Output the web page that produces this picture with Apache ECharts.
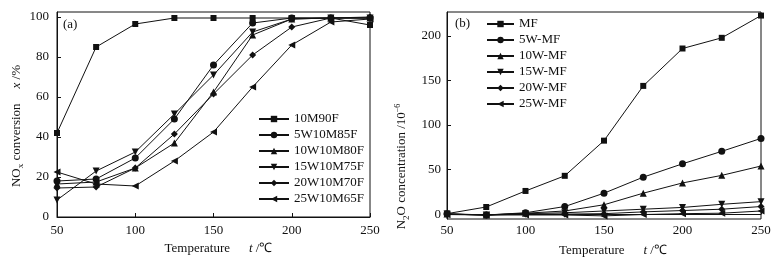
<!DOCTYPE html>
<html>
<head>
<meta charset="utf-8">
<script src="https://cdn.jsdelivr.net/npm/echarts@6/dist/echarts.min.js"></script>
<style>
  html, body { margin: 0; padding: 0; background: #fff; }
  #main { width: 776px; height: 262px; }
</style>
</head>
<body>
<div id="main"></div>
<script>
// temperatures, °C
const temps = [50, 75, 100, 125, 150, 175, 200, 225, 250];

// (a) NOx conversion, %
const noxNames = ['10M90F', '5W10M85F', '10W10M80F', '15W10M75F', '20W10M70F', '25W10M65F'];
const nox10M90F = [42, 85, 96.5, 99.5, 99.5, 99.5, 99.5, 99.5, 96];
const nox5W10M85F = [18, 19, 29.5, 49, 76, 97, 99.5, 99.5, 99.5];
const nox10W10M80F = [16.5, 17.5, 24.5, 37, 62.5, 91, 99, 99.5, 99.5];
const nox15W10M75F = [8.5, 23, 32.5, 51.5, 71, 92.5, 99, 99.5, 99.5];
const nox20W10M70F = [14.5, 15, 24.5, 41.5, 61.5, 81, 95, 99.5, 100];
const nox25W10M65F = [22.5, 16.5, 15.5, 28, 42.5, 65, 86, 97.5, 99];

// (b) N2O concentration, 10^-6
const n2oNames = ['MF', '5W-MF', '10W-MF', '15W-MF', '20W-MF', '25W-MF'];
const n2oMF = [0.5, 8, 26, 43, 82.5, 144, 186, 198, 223];
const n2o5W = [0.5, -1, 1.5, 8.5, 23.5, 41.5, 56.5, 70.5, 85];
const n2o10W = [0, -1, 1, 3.5, 10.5, 23.5, 35, 43.5, 54];
const n2o15W = [0, -1, 0.5, 1.5, 3.5, 5.5, 7.5, 11, 14];
const n2o20W = [0, -1, 0, 0, 0.5, 2.5, 4, 5.5, 8.5];
const n2o25W = [-0.5, -1, -1, -1, -2, -0.5, 0.5, 1, 3.5];

const noxTicks = [0, 20, 40, 60, 80, 100];
const n2oTicks = [0, 50, 100, 150, 200];

const font = 'Liberation Serif';
const ink = '#111';

// marker shapes: square, circle, up, down, diamond, left
const shapes = ['rect', 'circle', 'triangle', 'triangle', 'diamond', 'triangle'];
const rotations = [0, 0, 0, 180, 0, 90];

const pair = (vals) => temps.map((t, i) => [t, vals[i]]);

function makeSeries(names, list, idx) {
  return names.map((name, i) => ({
    name: name,
    type: 'line',
    xAxisIndex: idx,
    yAxisIndex: idx,
    data: pair(list[i]),
    symbol: shapes[i],
    symbolRotate: rotations[i],
    symbolSize: shapes[i] === 'rect' ? 6 : 7,
    showAllSymbol: true,
    lineStyle: { color: ink, width: 1 },
    itemStyle: { color: ink },
    emphasis: { disabled: true },
    animation: false
  }));
}

function xAxis(idx, labelMargin, nameGap, shift) {
  return {
    type: 'value',
    gridIndex: idx,
    min: 50,
    max: 250,
    interval: 50,
    name: '{a|Temperature}{b|t}{a| /℃}',
    nameLocation: 'middle',
    nameGap: nameGap,
    nameTextStyle: {
      padding: [0, 0, 0, shift],
      rich: {
        a: { fontFamily: font, fontSize: 13, color: ink },
        b: { fontFamily: font, fontSize: 13, color: ink, fontStyle: 'italic', padding: [0, 0, 0, 19] }
      }
    },
    axisLine: { lineStyle: { color: ink, width: 1 } },
    axisTick: { inside: true, length: 4, lineStyle: { color: ink } },
    axisLabel: { margin: labelMargin, fontFamily: font, fontSize: 13, color: ink },
    splitLine: { show: false }
  };
}

function legend(names, left, top, width) {
  return {
    data: names,
    orient: 'vertical',
    left: left,
    top: top,
    itemWidth: width,
    itemHeight: 8,
    itemGap: 2,
    selectedMode: false,
    textStyle: { fontFamily: font, fontSize: 13, lineHeight: 14, color: ink }
  };
}

const chart = echarts.init(document.getElementById('main'), null, { renderer: 'canvas' });

const option = {
  backgroundColor: '#fff',
  animation: false,
  grid: [
    { left: 57, top: 12, width: 313, height: 205, show: true, borderColor: ink, borderWidth: 1 },
    { left: 447, top: 12, width: 314, height: 208, show: true, borderColor: ink, borderWidth: 1 }
  ],
  xAxis: [xAxis(0, 7, 14, 10), xAxis(1, 5, 25, 18)],
  yAxis: [
    {
      type: 'value',
      gridIndex: 0,
      min: 0,
      max: 102.5,
      name: '{a|NO}{s|x}{a| conversion}{b|x}{a| /%}',
      nameLocation: 'middle',
      nameGap: 28,
      nameRotate: 90,
      nameTextStyle: {
        padding: [0, 23, 0, 0],
        rich: {
          a: { fontFamily: font, fontSize: 13, color: ink },
          s: { fontFamily: font, fontSize: 9, color: ink, padding: [9, 0, 0, 0] },
          b: { fontFamily: font, fontSize: 13, color: ink, fontStyle: 'italic', padding: [0, 0, 0, 15] }
        }
      },
      axisLine: { lineStyle: { color: ink, width: 1 } },
      axisTick: { inside: true, length: 4, lineStyle: { color: ink }, customValues: noxTicks },
      axisLabel: { margin: 8, fontFamily: font, fontSize: 13, color: ink, customValues: noxTicks },
      splitLine: { show: false }
    },
    {
      type: 'value',
      gridIndex: 1,
      min: -5.5,
      max: 227,
      name: '{a|N}{s|2}{a|O concentration /10}{p|−6}',
      nameLocation: 'middle',
      nameGap: 36,
      nameRotate: 90,
      nameTextStyle: {
        padding: [0, 102, 0, 0],
        rich: {
          a: { fontFamily: font, fontSize: 13, color: ink },
          s: { fontFamily: font, fontSize: 9, color: ink, padding: [9, 0, 0, 0] },
          p: { fontFamily: font, fontSize: 8, color: ink, padding: [0, 0, 9, 0] }
        }
      },
      axisLine: { lineStyle: { color: ink, width: 1 } },
      axisTick: { inside: true, length: 4, lineStyle: { color: ink }, customValues: n2oTicks },
      axisLabel: { margin: 6, fontFamily: font, fontSize: 13, color: ink, customValues: n2oTicks },
      splitLine: { show: false }
    }
  ],
  legend: [
    legend(noxNames, 253, 107, 30),
    legend(n2oNames, 481, 12, 27)
  ],
  graphic: [
    { type: 'text', left: 63, top: 18, style: { text: '(a)', font: '13px "Liberation Serif"', fill: ink } },
    { type: 'text', left: 455, top: 17, style: { text: '(b)', font: '13px "Liberation Serif"', fill: ink } }
  ],
  series: [
    ...makeSeries(noxNames, [nox10M90F, nox5W10M85F, nox10W10M80F, nox15W10M75F, nox20W10M70F, nox25W10M65F], 0),
    ...makeSeries(n2oNames, [n2oMF, n2o5W, n2o10W, n2o15W, n2o20W, n2o25W], 1)
  ]
};

chart.setOption(option);
</script>
</body>
</html>
